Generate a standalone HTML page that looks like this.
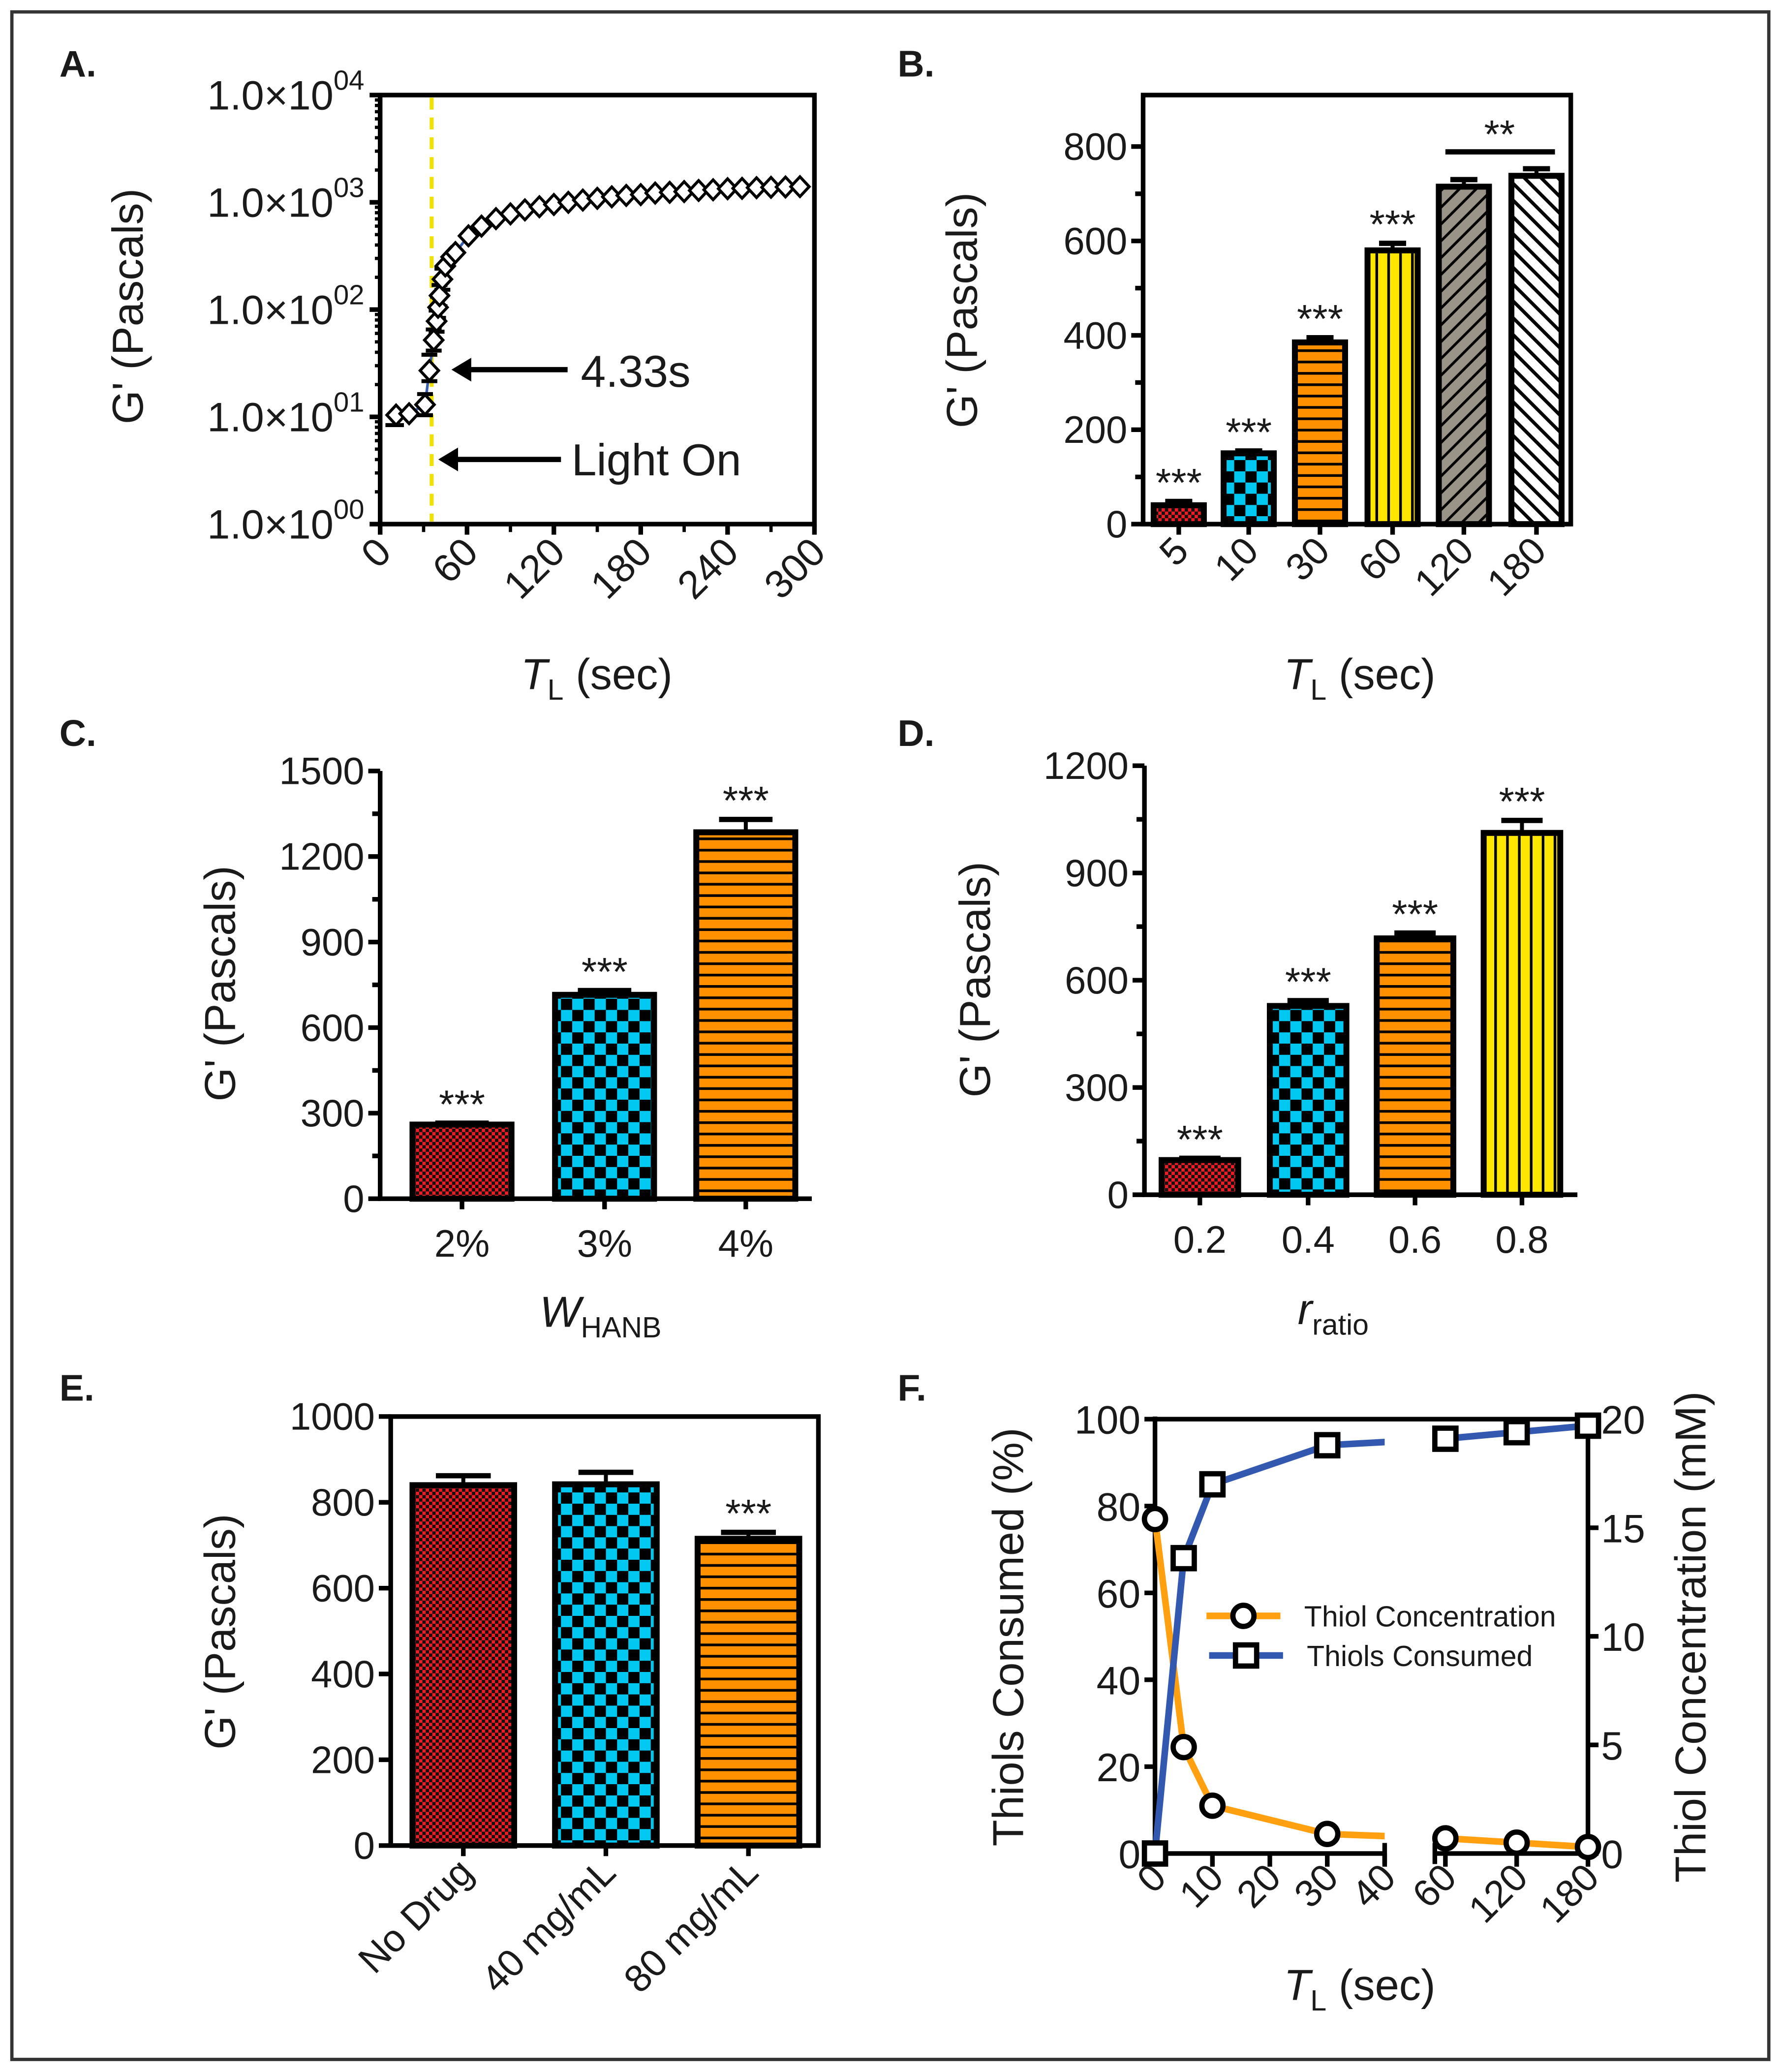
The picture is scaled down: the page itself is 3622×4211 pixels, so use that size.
<!DOCTYPE html>
<html><head><meta charset="utf-8"><style>
html,body{margin:0;padding:0;background:#fff;}
svg{display:block;font-family:"Liberation Sans",Arial,sans-serif;}
</style></head><body>
<svg id="fig" width="3622" height="4211" viewBox="0 0 1350 1569.5" xmlns="http://www.w3.org/2000/svg">
<defs>
<pattern id="pRed" width="5" height="5" patternUnits="userSpaceOnUse"><rect width="5" height="5" fill="#111"/><rect width="2.5" height="2.5" fill="#ee1c24"/><rect x="2.5" y="2.5" width="2.5" height="2.5" fill="#ee1c24"/></pattern>
<pattern id="pCyan" width="17" height="17" patternUnits="userSpaceOnUse"><rect width="17" height="17" fill="#000"/><rect width="8.5" height="8.5" fill="#00c8f0"/><rect x="8.5" y="8.5" width="8.5" height="8.5" fill="#00c8f0"/></pattern>
<pattern id="pOrange" width="10" height="8.6" patternUnits="userSpaceOnUse"><rect width="10" height="8.6" fill="#ff9000"/><rect y="6.6" width="10" height="2" fill="#000"/></pattern>
<pattern id="pYellow" width="9" height="10" patternUnits="userSpaceOnUse"><rect width="9" height="10" fill="#ffe600"/><rect x="7" width="2" height="10" fill="#000"/></pattern>
<pattern id="pGray" width="9" height="9" patternUnits="userSpaceOnUse" patternTransform="rotate(45)"><rect width="9" height="9" fill="#9a9488"/><rect width="2" height="9" fill="#000"/></pattern>
<pattern id="pWhite" width="9" height="9" patternUnits="userSpaceOnUse" patternTransform="rotate(-45)"><rect width="9" height="9" fill="#fff"/><rect width="2.6" height="9" fill="#000"/></pattern>
<clipPath id="fGap"><rect x="0" y="1000" width="1049" height="500"/><rect x="1087" y="1000" width="200" height="500"/></clipPath>
</defs>
<rect x="9" y="9" width="1331" height="1551" fill="none" stroke="#333" stroke-width="2.5"/>
</svg>
<script>
// ---- Panel A data ----
const aTimes=[11,20,31,34,37,39,40,41,43,45,49,52,61,70,80,90,100,110,120,130,140,150,160,170,180,190,200,210,220,230,240,250,260,270,280,290];
const aValues=[10.4,10.7,13,27,52,78,105,135,192,255,310,340,487,600,705,780,850,910,955,1000,1050,1090,1125,1160,1180,1220,1240,1260,1290,1310,1340,1350,1370,1380,1390,1400];
const aYTicks=[0,1,2,3,4];
const aXTicks=[0,60,120,180,240,300];
// ---- Panel B data ----
const bCats=["5","10","30","60","120","180"];
const bValues=[40,150,385,580,715,738];
const bErrors=[8,5,10,15,15,15];
const bYTicks=[0,200,400,600,800];
// ---- Panel C data ----
const cCats=["2%","3%","4%"];
const cValues=[260,715,1285];
const cErrors=[5,15,45];
const cYTicks=[0,300,600,900,1200,1500];
// ---- Panel D data ----
const dCats=["0.2","0.4","0.6","0.8"];
const dValues=[97,528,717,1012];
const dErrors=[5,15,15,35];
const dYTicks=[0,300,600,900,1200];
// ---- Panel E data ----
const eCats=["No Drug","40 mg/mL","80 mg/mL"];
const eValues=[840,842,715];
const eErrors=[22,28,15];
const eYTicks=[0,200,400,600,800,1000];
// ---- Panel F data ----
const fTimes=[0,5,10,30,60,120,180];
const fConsumed=[0,68,85,94,95.5,97,98.5];
const fConc=[15.4,4.9,2.2,0.9,0.7,0.5,0.3];
const fXTicks=["0","10","20","30","40","60","120","180"];
const fYTicksL=[0,20,40,60,80,100];
const fYTicksR=[0,5,10,15,20];

const NS="http://www.w3.org/2000/svg";
const svg=document.getElementById('fig');
function el(tag,attrs,parent,text){const e=document.createElementNS(NS,tag);for(const k in attrs)e.setAttribute(k,attrs[k]);if(text!==undefined)e.textContent=text;(parent||svg).appendChild(e);return e;}
function group(name){const g=el('g',{});


return g;}
function line(g,x1,y1,x2,y2,w,c){return el('line',{x1,y1,x2,y2,stroke:c||'#000','stroke-width':w||3.5,'stroke-linecap':'butt'},g);}
function txt(g,x,y,s,size,anchor,extra){const t=el('text',Object.assign({x,y,'font-size':size,'text-anchor':anchor||'middle',fill:'#1a1a1a'},extra||{}),g,s);return t;}

[["A.",45,58],["B.",680,58],["C.",45,565],["D.",680,565],["E.",45,1061],["F.",680,1061]].forEach(p=>{
 const t=txt(svg,p[1],p[2],p[0],28,'start',{'font-weight':'bold'});
 
 
});

function yTitle(g,x,cy,s,size){const t=el('text',{x:0,y:0,'font-size':size||33,'text-anchor':'middle',fill:'#1a1a1a',transform:`translate(${x},${cy}) rotate(-90)`},g,s);

return t;}
function xTitleSub(g,cx,y,main,sub,rest){const t=el('text',{x:cx,y:y,'font-size':33,'text-anchor':'middle',fill:'#1a1a1a'},g);


el('tspan',{'font-style':'italic'},t,main);el('tspan',{'font-size':22,dy:8},t,sub);if(rest)el('tspan',{dy:-8},t,rest);}

function barPanel(name,cats,vals,errs,ticks,o){
 const g=group(name);
 const ys=v=>o.y0-v*o.k;
 if(o.frame){el('rect',{x:o.ax,y:o.top,width:o.right-o.ax,height:o.y0-o.top,fill:'none',stroke:'#000','stroke-width':3.5},g);} 
 else{line(g,o.ax,o.top,o.ax,o.y0);} 
 line(g,o.ax-1.7,o.y0,o.right,o.y0);
 ticks.forEach((t,i)=>{line(g,o.ax-9,ys(t),o.ax,ys(t));const l=txt(g,o.ax-12,ys(t)+10,String(t),29,'end');
  
  
  if(o.minor&&i<ticks.length-1){const m=(t+ticks[i+1])/2;line(g,o.ax-6,ys(m),o.ax,ys(m));}
 });
 cats.forEach((c,i)=>{const cx=o.centers[i];const y=ys(vals[i]);const w=o.bw;
  const bar=el('rect',{x:cx-w/2,y:y,width:w,height:o.y0-y,fill:`url(#${o.fills[i]})`,stroke:'#000','stroke-width':4.5},g);
  
  
  const ye=ys(vals[i]+errs[i]);line(g,cx,y,cx,ye,3);line(g,cx-w*0.27,ye,cx+w*0.27,ye,4);
  line(g,cx,o.y0,cx,o.y0+8);
  if(o.rotLabels){const l=el('text',{x:0,y:0,'font-size':29,'text-anchor':'end',fill:'#1a1a1a',transform:`translate(${cx+9},${o.y0+22}) rotate(-45)`},g,c);
   
   }
  else{const l=txt(g,cx,o.y0+44,c,29);
   
   }
  if(o.stars&&o.stars[i]){const s=txt(g,cx,ye-4,o.stars[i],30);
   
   }
 });
 return g;
}

// ===== Panel A =====
(function(){const g=group('panel-a-chart');
 const X=t=>288+t/300*329, Y=v=>397-Math.log10(v)*81.25;
 el('rect',{x:288,y:72,width:329,height:325,fill:'none',stroke:'#000','stroke-width':3.5},g);
 aYTicks.forEach((p,i)=>{const y=397-p*81.25;line(g,280,y,288,y);
  if(i<aYTicks.length-1){for(let m=2;m<10;m++){const ym=397-(p+Math.log10(m))*81.25;line(g,284,ym,288,ym,2.5);}}
  const t=el('text',{x:276,y:y+11,'font-size':31,'text-anchor':'end',fill:'#1a1a1a'},g);
  
  
  el('tspan',{},t,'1.0×10');el('tspan',{'font-size':21,dy:-15},t,'0'+p);
 });
 aXTicks.forEach((t,i)=>{const x=X(t);line(g,x,397,x,405);if(i<aXTicks.length-1)line(g,X(t+30),397,X(t+30),403,2.5);
  const l=el('text',{x:0,y:0,'font-size':30,'text-anchor':'end',fill:'#1a1a1a',transform:`translate(${x+10},${420}) rotate(-45)`},g,String(t));
  
  });
 const lo=el('line',{x1:327,y1:74,x2:327,y2:395,stroke:'#f0e000','stroke-width':3,'stroke-dasharray':'9,6'},g);
 
 
 el('polyline',{points:aTimes.map((t,i)=>X(t)+','+Y(aValues[i])).join(' '),fill:'none',stroke:'#3a5fb0','stroke-width':2},g);
 aTimes.forEach((t,i)=>{if(i>=2&&i<=8){const y=Y(aValues[i]);line(g,X(t)-6,y-(i==3?12:8),X(t)+6,y-(i==3?12:8),3);line(g,X(t)-6,y+8,X(t)+6,y+8,3);}});
 line(g,292,322,306,322,3);
 aTimes.forEach((t,i)=>{const x=X(t),y=Y(aValues[i]);const d=el('polygon',{points:`${x},${y-7.5} ${x+7},${y} ${x},${y+7.5} ${x-7},${y}`,fill:'#fff',stroke:'#000','stroke-width':2.2},g);
  
  });
 line(g,352,280,430,280,4);el('polygon',{points:'342,280 357,271 357,289',fill:'#000'},g);
 const a1=txt(g,440,293,'4.33s',34,'start');
 line(g,344,348,425,348,4);el('polygon',{points:'332,348 347,339 347,357',fill:'#000'},g);
 const a2=txt(g,433,360,'Light On',34,'start');
 yTitle(g,108,232,"G' (Pascals)");
 xTitleSub(g,452,522,'T','L',' (sec)');
})();

// ===== Panel B =====
(function(){const g=barPanel('panel-b-chart',bCats,bValues,bErrors,bYTicks,{ax:866,right:1190,top:72,y0:397,k:286/800,frame:true,minor:true,centers:[893,946,1000,1055,1109,1164],bw:38,fills:['pRed','pCyan','pOrange','pYellow','pGray','pWhite'],rotLabels:true,stars:['***','***','***','***','','']});
 line(g,1109-14,115,1164+14,115,4);const s=txt(g,1136,112,'**',30);
 yTitle(g,740,235,"G' (Pascals)");xTitleSub(g,1030,522,'T','L',' (sec)');})();

// ===== Panel C =====
(function(){const g=barPanel('panel-c-chart',cCats,cValues,cErrors,cYTicks,{ax:288,right:615,top:584,y0:908,k:324/1500,frame:false,minor:true,centers:[350,458,565],bw:75,fills:['pRed','pCyan','pOrange'],stars:['***','***','***']});
 yTitle(g,178,745,"G' (Pascals)");xTitleSub(g,455,1005,'W','HANB');})();

// ===== Panel D =====
(function(){const g=barPanel('panel-d-chart',dCats,dValues,dErrors,dYTicks,{ax:867,right:1195,top:580,y0:905,k:325/1200,frame:false,minor:true,centers:[909,991,1072,1153],bw:58,fills:['pRed','pCyan','pOrange','pYellow'],stars:['***','***','***','***']});
 yTitle(g,750,742,"G' (Pascals)");xTitleSub(g,1010,1003,'r','ratio');})();

// ===== Panel E =====
(function(){const g=barPanel('panel-e-chart',eCats,eValues,eErrors,eYTicks,{ax:296,right:620,top:1073,y0:1398,k:0.325,frame:true,minor:false,centers:[351,459,567],bw:77,fills:['pRed','pCyan','pOrange'],rotLabels:true,stars:['','','***']});
 yTitle(g,178,1236,"G' (Pascals)");})();

// ===== Panel F =====
(function(){const g=group('panel-f-chart');
 const X=t=>t<=40?875+t*4.35:(t<=60?1095:(t<=120?1095+(t-60)*0.9:1149+(t-120)*0.9));
 const YL=v=>1404-v*3.29, YR=v=>1404-v*(329/20);
 line(g,875,1073,875,1406);line(g,1203,1073,1203,1406);line(g,873,1075,1205,1075);
 line(g,873,1404,1049,1404);line(g,1087,1404,1205,1404);
 line(g,1087,1396,1087,1412,3.5);line(g,1049,1396,1049,1412,3.5);
 fYTicksL.forEach(t=>{line(g,867,YL(t),875,YL(t));const l=txt(g,864,YL(t)+11,String(t),30,'end');});
 fYTicksR.forEach(t=>{line(g,1203,YR(t),1211,YR(t));const l=txt(g,1213,YR(t)+11,String(t),30,'start');});
 fXTicks.forEach(s=>{const x=X(+s);line(g,x,1404,x,1414);const l=el('text',{x:0,y:0,'font-size':29,'text-anchor':'end',fill:'#1a1a1a',transform:`translate(${x+10},${1424}) rotate(-45)`},g,s);});
 const cl=group('thiol-concentration-series');g.appendChild(cl);
 el('polyline',{points:fTimes.map((t,i)=>X(t)+','+YR(fConc[i])).join(' '),fill:'none',stroke:'#ffa010','stroke-width':5,'clip-path':'url(#fGap)'},cl);
 const cs=group('thiols-consumed-series');g.appendChild(cs);
 el('polyline',{points:fTimes.map((t,i)=>X(t)+','+YL(fConsumed[i])).join(' '),fill:'none',stroke:'#3358b0','stroke-width':5,'clip-path':'url(#fGap)'},cs);
 fTimes.forEach((t,i)=>{const c=el('circle',{cx:X(t),cy:YR(fConc[i]),r:8,fill:'#fff',stroke:'#000','stroke-width':4},cl);});
 fTimes.forEach((t,i)=>{const r=el('rect',{x:X(t)-8,y:YL(fConsumed[i])-8,width:16,height:16,fill:'#fff',stroke:'#000','stroke-width':4},cs);});
 const lg=group('legend');g.appendChild(lg);
 line(lg,914,1224,970,1224,5,'#ffa010');el('circle',{cx:942,cy:1224,r:8,fill:'#fff',stroke:'#000','stroke-width':4},lg);
 txt(lg,988,1232,'Thiol Concentration',22,'start');
 line(lg,916,1254,972,1254,5,'#3358b0');el('rect',{x:936,y:1246,width:16,height:16,fill:'#fff',stroke:'#000','stroke-width':4},lg);
 txt(lg,990,1262,'Thiols Consumed',22,'start');
 yTitle(g,775,1240,'Thiols Consumed (%)',33);yTitle(g,1292,1240,'Thiol Concentration (mM)',33);
 xTitleSub(g,1030,1515,'T','L',' (sec)');
})();
</script>
</body></html>
